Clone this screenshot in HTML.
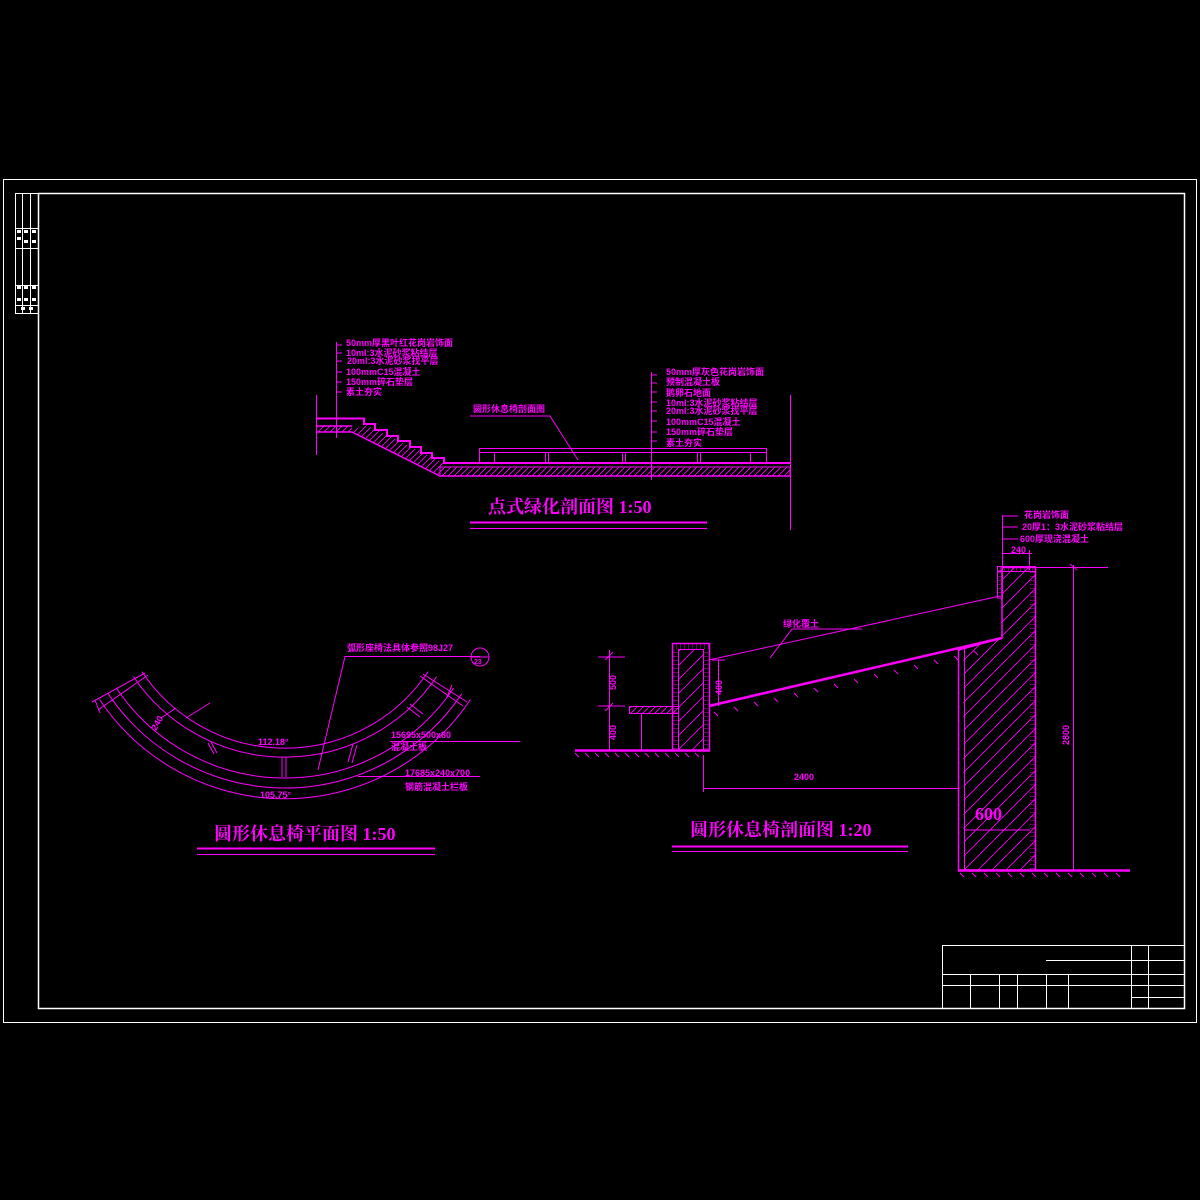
<!DOCTYPE html>
<html><head><meta charset="utf-8"><style>
html,body{margin:0;padding:0;background:#000;}
svg{display:block;}
text{font-family:"Liberation Sans","Noto Sans CJK SC",sans-serif;fill:#ff00ff;font-weight:bold;}
.t{font-family:"Liberation Serif","Noto Serif CJK SC",serif;}
</style></head><body>
<svg width="1200" height="1200" viewBox="0 0 1200 1200" xmlns="http://www.w3.org/2000/svg">
<defs>
<pattern id="h" width="6" height="6" patternUnits="userSpaceOnUse"><path d="M0 6 L6 0" stroke="#ff00ff" stroke-width="0.8"/></pattern>
<pattern id="h2" width="14" height="14" patternUnits="userSpaceOnUse"><path d="M0 14 L14 0" stroke="#ff00ff" stroke-width="0.8"/></pattern>
<pattern id="br" width="4" height="4" patternUnits="userSpaceOnUse"><path d="M0 0 V4" stroke="#ff00ff" stroke-width="0.8"/></pattern>
<pattern id="bv" width="4" height="4" patternUnits="userSpaceOnUse"><path d="M0 0 H4" stroke="#ff00ff" stroke-width="0.8"/></pattern>
</defs>
<rect width="1200" height="1200" fill="#000"/>
<!-- frames -->
<g fill="none" stroke="#fff" stroke-width="1">
<rect x="3.5" y="179.5" width="1193" height="843"/>
<rect x="38.5" y="193.5" width="1146" height="815" stroke-width="1.5"/>
<rect x="15.5" y="193.5" width="23" height="120"/>
<path d="M22.5 193V313 M30.5 193V313 M15 228.5H38 M15 248.5H38 M15 285.5H38 M15 305.5H38"/>
<path d="M942.5 945V1008 M942 945.5H1184 M942 974.5H1184 M942 985.5H1184 M1046 960.5H1184 M1131 997.5H1184 M1131.5 945V1008 M1148.5 945V1008 M970.5 974V1008 M999.5 974V1008 M1017.5 974V1008 M1046.5 974V1008 M1068.5 974V1008"/>
</g>
<g fill="#fff">
<rect x="17" y="230" width="4" height="3"/><rect x="24" y="230" width="4" height="3"/><rect x="32" y="230" width="4" height="3"/>
<rect x="17" y="237" width="4" height="3"/><rect x="24" y="240" width="4" height="3"/><rect x="32" y="240" width="4" height="3"/>
<rect x="17" y="286" width="4" height="3"/><rect x="24" y="286" width="4" height="3"/><rect x="32" y="286" width="4" height="3"/>
<rect x="17" y="298" width="4" height="3"/><rect x="24" y="298" width="4" height="3"/><rect x="32" y="298" width="4" height="3"/>
<rect x="21" y="307" width="4" height="3"/><rect x="29" y="307" width="4" height="3"/>
</g>

<g stroke="#ff00ff" fill="none" stroke-width="1">
<!-- ===== Section 1 ===== -->
<path d="M316.5 395V455 M336.5 342V438"/>
<path d="M336 345H342 M336 353H342 M336 361H342 M336 372H342 M336 382H342 M336 392H342"/>
<path d="M316 418.5H364V424H375V430H387V436H398V441H410V447H421V453H432V458H444V463H790" stroke-width="2"/>
<path d="M316 426H352 M316 432H352 L440 476H790" stroke-width="1.5"/>
<rect x="316" y="426" width="36" height="6" fill="url(#h)" stroke="none"/>
<polygon points="352,432 364,424 444,463 444,476 440,476" fill="url(#h)" stroke="none"/>
<rect x="440" y="467" width="350" height="9" fill="url(#h)" stroke="#ff00ff"/>
<path d="M790.5 395V530"/>
<rect x="479.5" y="448.5" width="287" height="4"/>
<path d="M479.5 452V463 M766.5 452V463 M494.5 452V463 M545.5 452V463 M548.5 452V463 M622.5 452V463 M625.5 452V463 M697.5 452V463 M700.5 452V463 M750.5 452V463"/>
<path d="M651.5 372V480 M651 375H657 M651 383H657 M651 392H657 M651 402H657 M651 411H657 M651 421H657 M651 432H657 M651 441H657"/>
<path d="M470 416H550 L578 460"/>
<path d="M470 522.5H707" stroke-width="2"/><path d="M470 528.5H707"/>

<!-- ===== Section 2 ===== -->
<rect x="672.5" y="643.5" width="37" height="107" stroke-width="1.5"/>
<rect x="678.5" y="649.5" width="25" height="101" fill="url(#h2)"/>
<rect x="672" y="644" width="37" height="5" fill="url(#br)" stroke="none"/>
<rect x="673" y="649" width="5" height="100" fill="url(#bv)" stroke="none"/>
<rect x="703" y="649" width="5" height="100" fill="url(#bv)" stroke="none"/>
<rect x="629.5" y="706.5" width="49" height="7" fill="url(#h)"/>
<path d="M641.5 713V750"/>
<path d="M575 750.5H710" stroke-width="2.5"/>
<path d="M575 753 l4 4 M585 753 l4 4 M595 753 l4 4 M605 753 l4 4 M615 753 l4 4 M625 753 l4 4 M635 753 l4 4 M645 753 l4 4 M655 753 l4 4 M665 753 l4 4 M675 753 l4 4 M685 753 l4 4 M695 753 l4 4"/>
<path d="M598 657H625 M609.5 650V750 M598 706H625 M605 711l8 -8 M605 660l8 -8"/>
<path d="M709 660 L1000 596"/>
<path d="M709 706 L1002 638" stroke-width="2.5"/>
<path d="M714 712 l4 4 M734 707 l4 4 M754 702 l4 4 M774 698 l4 4 M794 693 l4 4 M814 688 l4 4 M834 684 l4 4 M854 679 l4 4 M874 674 l4 4 M894 670 l4 4 M914 665 l4 4 M934 660 l4 4 M954 656 l4 4 M974 651 l4 4"/>
<path d="M712 660H725 M718.5 660V706"/>
<path d="M862 629H792 L770 658"/>
<!-- big wall -->
<polygon points="958.5,650 1002,638 1002,567.5 1035.5,567.5 1035.5,870 958.5,870" fill="url(#h2)" stroke-width="1.5"/>
<rect x="997.5" y="566.5" width="38" height="5" fill="url(#br)" stroke-width="1"/>
<rect x="997.5" y="571" width="5" height="27" fill="url(#bv)"/>
<rect x="1030" y="572" width="5" height="298" fill="url(#bv)" stroke="none"/>
<rect x="959.5" y="651" width="4" height="219" fill="#000" stroke="none"/>
<path d="M958.5 650V870 M964.5 649V870 M1002 596V638"/>
<path d="M964 830H1030"/>
<path d="M958 870.5H1130" stroke-width="2.5"/>
<path d="M960 873 l4 4 M972 873 l4 4 M984 873 l4 4 M996 873 l4 4 M1008 873 l4 4 M1020 873 l4 4 M1032 873 l4 4 M1044 873 l4 4 M1056 873 l4 4 M1068 873 l4 4 M1080 873 l4 4 M1092 873 l4 4 M1104 873 l4 4 M1116 873 l4 4"/>
<path d="M1035 567.5H1108 M1073.5 565V870 M1070 564l7 6"/>
<path d="M703.5 755V792 M703 788.5H958"/>
<path d="M1002.5 515V570 M1002 516H1018 M1002 527H1018 M1002 539H1018"/>
<path d="M1002 553.5H1032 M1029.5 550V570"/>
<path d="M672 846.5H908" stroke-width="2"/><path d="M672 851.5H908"/>

<!-- ===== Plan ===== -->
<path d="M141.9 671.6 A172 172 0 0 0 428.1 671.6"/>
<path d="M133.3 676.5 A183 183 0 0 0 436.7 676.5"/>
<path d="M116.4 688.1 A203 203 0 0 0 453.6 688.1"/>
<path d="M108.2 693.8 A213 213 0 0 0 461.8 693.8"/>
<path d="M99.5 699.5 A223 223 0 0 0 470.5 699.5"/>
<path d="M145 673 L92 702 M148 675 L98 710 M420 676 L463 706 M423 674 L467 702"/>
<path d="M176 708 L161 718 M186 718 L210 703 M208 743 L214 754 M211 742 L217 753 M282 757V777 M286 757V777 M353 744 L348 762 M357 745 L352 763 M407 707 L420 717 M410 704 L423 714"/>
<path d="M95 700 l5 13 M452 685 l-5 12"/>
<path d="M480 656.5H345 L318 770"/>
<circle cx="480" cy="657" r="9"/>
<path d="M471 657H489"/>
<path d="M390 741.5H520 M358 776.5H480"/>
<path d="M197 848.5H435" stroke-width="2"/><path d="M197 854.5H435"/>
</g>

<!-- text -->
<g font-size="9">
<text x="346" y="346">50mm厚黑叶红花岗岩饰面</text>
<text x="346" y="356">10ml:3水泥砂浆粘结层</text>
<text x="347" y="364">20ml:3水泥砂浆找平层</text>
<text x="346" y="375">100mmC15混凝土</text>
<text x="346" y="385">150mm碎石垫层</text>
<text x="346" y="395">素土夯实</text>
<text x="666" y="375">50mm厚灰色花岗岩饰面</text>
<text x="666" y="385">预制混凝土板</text>
<text x="666" y="396">鹅卵石地面</text>
<text x="666" y="406">10ml:3水泥砂浆粘结层</text>
<text x="666" y="414">20ml:3水泥砂浆找平层</text>
<text x="666" y="425">100mmC15混凝土</text>
<text x="666" y="435">150mm碎石垫层</text>
<text x="666" y="446">素土夯实</text>
<text x="473" y="412">圆形休息椅剖面图</text>
<text x="1024" y="518">花岗岩饰面</text>
<text x="1022" y="530">20厚1：3水泥砂浆粘结层</text>
<text x="1020" y="542">600厚现浇混凝土</text>
<text x="1011" y="553">240</text>
<text x="783" y="627">绿化覆土</text>
<text x="794" y="780">2400</text>
<text x="347" y="651">弧形座椅法具体参照98J27</text>
<text x="391" y="738">15695x500x80</text>
<text x="391" y="750">混凝土板</text>
<text x="405" y="776">17685x240x700</text>
<text x="405" y="790">钢筋混凝土栏板</text>
<text x="258" y="745">112.18°</text>
<text x="260" y="798">105.75°</text>
<text x="474" y="664" font-size="7">23</text>
<text transform="translate(616,690) rotate(-90)">500</text>
<text transform="translate(616,740) rotate(-90)">400</text>
<text transform="translate(722,695) rotate(-90)">400</text>
<text transform="translate(1069,745) rotate(-90)">2800</text>
<text transform="translate(156,731) rotate(-60)">240</text>
</g>
<text x="975" y="820" font-size="18" class="t">600</text>
<text x="488" y="513" font-size="18" class="t">点式绿化剖面图 1:50</text>
<text x="214" y="840" font-size="18" class="t">圆形休息椅平面图 1:50</text>
<text x="690" y="836" font-size="18" class="t">圆形休息椅剖面图 1:20</text>
</svg>
</body></html>
